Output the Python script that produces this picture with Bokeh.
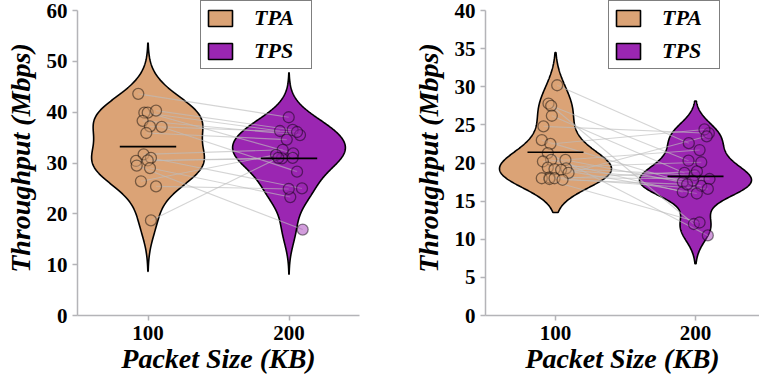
import numpy as np
from bokeh.plotting import figure
from bokeh.models import FixedTicker, Legend, LegendItem
from bokeh.layouts import row
from bokeh.embed import file_html
from bokeh.resources import INLINE

# ---- data -------------------------------------------------------------
categories = ["100", "200"]          # packet size (KB)
series = ["TPA", "TPS"]

# left panel: paired runs (index i of TPA is paired with index i of TPS)
tpa_left = [43.6, 39.9, 39.9, 40.3, 38.3, 37.2, 37.1, 35.9, 31.7, 31.0,
            30.5, 30.4, 29.5, 29.0, 26.4, 25.4, 18.7]
tps_left = [39.0, 36.3, 31.9, 36.5, 35.5, 36.1, 28.3, 34.6, 32.6, 25.0,
            31.0, 30.9, 16.9, 23.3, 31.6, 24.9, 31.0]
jit_tpa_left = [-0.069, -0.026, -0.002, 0.057, -0.038, 0.014, 0.097, -0.012,
                -0.031, 0.021, -0.002, -0.085, -0.080, 0.014, -0.050, 0.057, 0.021]
jit_tps_left = [-0.002, -0.064, 0.030, 0.026, 0.078, 0.057, 0.057, -0.016,
                -0.045, 0.092, 0.026, -0.050, 0.097, 0.009, -0.092, -0.002, -0.076]

# right panel
tpa_right = [30.2, 27.8, 27.5, 26.2, 24.8, 23.0, 22.5, 21.3, 20.4, 20.2, 20.4,
             19.3, 19.4, 19.2, 19.1, 18.7, 18.1, 18.0, 17.9, 18.0, 17.8]
tps_right = [22.6, 12.0, 20.3, 18.7, 23.9, 17.5, 24.4, 10.5, 16.2, 21.7, 17.0,
             18.4, 20.1, 17.7, 16.0, 23.5, 17.9, 12.2, 18.9, 16.6, 17.2]
jit_tpa_right = [0.012, -0.050, -0.031, -0.026, -0.086, -0.098, -0.036, -0.055,
                 -0.031, -0.090, 0.071, 0.076, -0.055, -0.007, 0.040, 0.093,
                 -0.043, -0.098, -0.043, -0.007, 0.050]
jit_tps_right = [-0.048, -0.012, -0.050, -0.079, 0.095, -0.091, 0.064, 0.088,
                 -0.091, 0.029, 0.041, -0.007, 0.041, -0.019, 0.009, 0.080,
                 0.100, 0.029, 0.010, 0.088, -0.060]

yticks_left = [0, 10, 20, 30, 40, 50, 60]
yticks_right = [0, 5, 10, 15, 20, 25, 30, 35, 40]

# ---- styling ----------------------------------------------------------
COLORS = {"TPA": "#DBA376", "TPS": "#9B26B2"}
FONT = "Liberation Serif"
AXIS_GREY = "#b4b4b8"
FIG_H = 377
FRAME_H = 315        # plot frame height (frame top sits at the canvas top)
TOP_GAP = 10         # blank pixels between the frame top and the axis top


def violin_outline(vals, center, cut, bw_adjust=1.0, half_width=0.4, n=300):
    """Gaussian KDE (Scott bandwidth) outline, scaled to a common max width."""
    v = np.asarray(vals, float)
    bw = bw_adjust * v.std(ddof=1) * len(v) ** (-1.0 / 5.0)
    ys = np.linspace(v.min() - cut * bw, v.max() + cut * bw, n)
    dens = np.exp(-0.5 * ((ys[:, None] - v[None, :]) / bw) ** 2).sum(axis=1)
    hw = half_width * dens / dens.max()
    xs = np.concatenate([center + hw, (center - hw)[::-1]])
    yy = np.concatenate([ys, ys[::-1]])
    return xs, yy


def make_panel(tpa, tps, j_tpa, j_tps, ymax, yticks, kde_opts, width,
               border_left, border_right, x_end, legend_loc):
    # leave headroom above ymax so the legend can sit near the canvas top
    y_top = ymax * FRAME_H / (FRAME_H - TOP_GAP)
    p = figure(width=width, height=FIG_H, x_range=(-0.5, x_end), y_range=(0, y_top),
               output_backend="svg", toolbar_location=None,
               min_border_left=border_left, min_border_right=border_right,
               min_border_top=0, min_border_bottom=FIG_H - FRAME_H)
    p.outline_line_color = None
    p.grid.visible = False
    p.background_fill_color = "white"
    p.border_fill_color = "white"

    groups = [("TPA", tpa, j_tpa, 0.0), ("TPS", tps, j_tps, 1.0)]
    violins = {}
    for (name, vals, _, cx), (cut, adj) in zip(groups, kde_opts):
        xs, ys = violin_outline(vals, cx, cut, adj)
        violins[name] = p.patch(xs, ys, fill_color=COLORS[name], fill_alpha=1.0,
                                line_color="black", line_width=1.6)

    # paired connections between the two groups
    x0 = [0.0 + j for j in j_tpa]
    x1 = [1.0 + j for j in j_tps]
    p.segment(x0=x0, y0=tpa, x1=x1, y1=tps, line_color="#bdbdbd",
              line_alpha=0.65, line_width=1.1)

    for name, vals, jit, cx in groups:
        p.scatter([cx + j for j in jit], vals, size=11, marker="circle",
                  fill_color=COLORS[name], fill_alpha=0.45,
                  line_color="black", line_alpha=0.45, line_width=1.3)
        m = float(np.mean(vals))
        p.segment(x0=[cx - 0.2], y0=[m], x1=[cx + 0.2], y1=[m],
                  line_color="black", line_width=1.6)

    p.xaxis.ticker = FixedTicker(ticks=[0, 1])
    p.xaxis.major_label_overrides = {0: categories[0], 1: categories[1]}
    p.yaxis.ticker = FixedTicker(ticks=yticks)
    p.yaxis.bounds = (0, ymax)

    for ax in (p.xaxis, p.yaxis):
        ax.axis_line_color = AXIS_GREY
        ax.axis_line_width = 1.5
        ax.major_tick_line_color = AXIS_GREY
        ax.major_tick_line_width = 1.5
        ax.major_tick_out = 5
        ax.major_tick_in = 0
        ax.minor_tick_line_color = None
        ax.major_label_text_font = FONT
        ax.major_label_text_font_style = "bold"
        ax.major_label_text_font_size = "21px"
        ax.major_label_text_color = "black"
        ax.axis_label_text_font = FONT
        ax.axis_label_text_font_style = "bold italic"
        ax.axis_label_text_font_size = "28px"
        ax.axis_label_text_color = "black"
    p.xaxis.axis_label = "Packet Size (KB)"
    p.yaxis.axis_label = "Throughput (Mbps)"
    p.xaxis.major_label_standoff = 5
    p.yaxis.major_label_standoff = 5
    p.xaxis.axis_label_standoff = 0
    p.yaxis.axis_label_standoff = 8

    legend = Legend(items=[LegendItem(label=s, renderers=[violins[s]]) for s in series],
                    location=legend_loc, orientation="vertical",
                    label_text_font=FONT, label_text_font_style="bold italic",
                    label_text_font_size="22px", label_text_color="black",
                    glyph_width=30, glyph_height=20, label_standoff=19,
                    label_width=53, spacing=7, padding=4, margin=0,
                    border_line_color="black", border_line_width=1.5,
                    background_fill_color="white", background_fill_alpha=1.0)
    p.add_layout(legend)
    return p


left = make_panel(tpa_left, tps_left, jit_tpa_left, jit_tps_left, 60, yticks_left,
                  kde_opts=[(2.7, 1.0), (2.7, 1.0)], width=380, border_left=77,
                  border_right=21, x_end=1.5, legend_loc=(123, 246))
right = make_panel(tpa_right, tps_right, jit_tpa_right, jit_tps_right, 40, yticks_right,
                   kde_opts=[(2.1, 1.0), (2.2, 0.82)], width=379, border_left=105,
                   border_right=0, x_end=1.457, legend_loc=(123, 246))

layout = row(left, right, spacing=0)
open("out.html", "w").write(file_html(layout, INLINE))
